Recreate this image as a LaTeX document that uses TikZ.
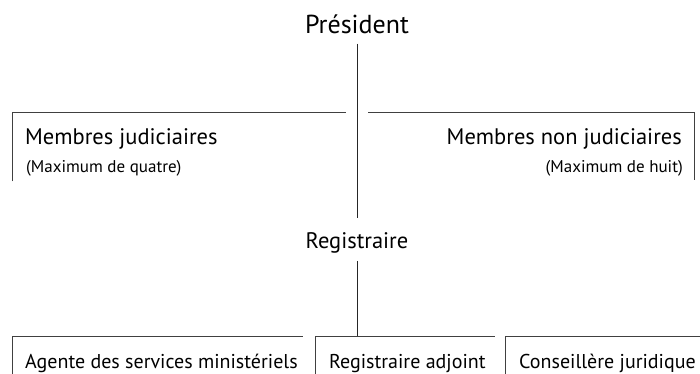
\documentclass[tikz,border=0pt]{standalone}
\usepackage{fontspec}
\setmainfont{PT Sans}
\begin{document}
\begin{tikzpicture}[x=1pt,y=-1pt,
    head/.style={font=\fontsize{26}{29}\selectfont, inner sep=0pt},
    unit/.style={font=\fontsize{22.5}{25}\selectfont, inner sep=0pt},
    note/.style={font=\fontsize{17}{20}\selectfont, inner sep=0pt},
    low/.style={font=\fontsize{20}{23}\selectfont, inner sep=0pt},
    box/.style={inner sep=0pt, anchor=north west},
    frame/.style={line width=0.8pt, black!75},
    link/.style={line width=0.8pt, black!85}]
    \useasboundingbox (0,0) rectangle (700,373);

    % President and the line down the middle
    \node[head, anchor=base] (pres) at (357,33) {Président};
    \coordinate (presend) at (357,218);
    \draw[link] ([yshift=-10pt]pres.south) -- (presend);

    % Judicial members (left)
    \node[box, minimum width=333.5pt, minimum height=69pt] (jbox) at (12.5,112) {};
    \draw[frame] (jbox.south west) -- (jbox.north west) -- (jbox.north east);
    \node[unit, anchor=base west] (jud) at (25,144) {Membres judiciaires};
    \node[note, anchor=base west] (judmax) at (26,172) {(Maximum de quatre)};

    % Non-judicial members (right)
    \node[box, minimum width=326pt, minimum height=68pt] (nbox) at (368,112) {};
    \draw[frame] (nbox.north west) -- (nbox.north east) -- (nbox.south east);
    \node[unit, anchor=base east] (nonjud) at (682,144) {Membres non judiciaires};
    \node[note, anchor=base east] (nonjudmax) at (683,172) {(Maximum de huit)};

    % Registrar
    \node[unit, anchor=base] (reg) at (357,248) {Registraire};

    % Bottom row
    \node[box, minimum width=290.5pt, minimum height=40pt] (abox) at (12.5,336) {};
    \node[box, minimum width=180pt, minimum height=40pt] (dbox) at (315,336) {};
    \node[box, minimum width=195pt, minimum height=40pt] (cbox) at (505,336) {};
    \foreach \b in {abox,dbox,cbox}
        \draw[frame] (\b.south west) -- (\b.north west) -- (\b.north east);
    \node[low, anchor=base west] (agent) at (25,368) {Agente des services ministériels};
    \node[low, anchor=base west] (deputy) at (329,368) {Registraire adjoint};
    \node[low, anchor=base west] (counsel) at (519,368) {Conseillère juridique};

    % Registrar down to the deputy
    \draw[link] ([yshift=-8pt]reg.south) -- (reg.south |- dbox.north);

\end{tikzpicture}
\end{document}
